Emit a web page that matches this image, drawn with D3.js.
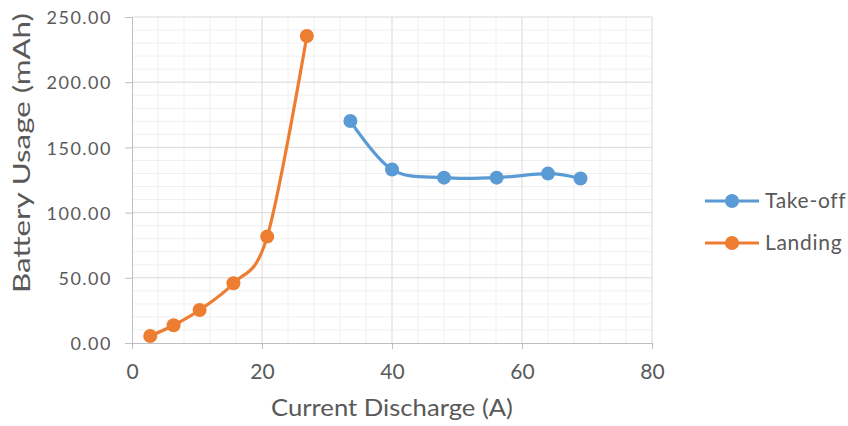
<!DOCTYPE html>
<html>
<head>
<meta charset="utf-8">
<script src="https://cdn.jsdelivr.net/npm/d3@7"></script>
<style>
  body { margin: 0; background: #fff; }
  text { font-family: "Gill Sans MT", "Gill Sans", Lato, "Open Sans", sans-serif; fill: #595959; }
</style>
</head>
<body>
<div id="chart"></div>
<script>
// data
const takeoffX = [33.6, 40.0, 48.0, 56.1, 64.0, 69.0];
const takeoffY = [170.2, 133.0, 126.8, 126.8, 129.9, 126.1];
const landingX = [2.8, 6.4, 10.4, 15.6, 20.8, 26.9];
const landingY = [5.4, 13.6, 25.3, 45.8, 81.6, 235.4];
const seriesNames = ['Take-off', 'Landing'];
const seriesColors = ['#5b9bd5', '#ed7d31'];
const xTicks = [0, 20, 40, 60, 80];
const yTicks = [0, 50, 100, 150, 200, 250];

const W = 848, H = 426;
const margin = { top: 17, right: 196, bottom: 83, left: 132 };
const width = W - margin.left - margin.right;
const height = H - margin.top - margin.bottom;

const svg = d3.select('#chart').append('svg')
    .attr('width', W).attr('height', H);
const g = svg.append('g').attr('transform', `translate(${margin.left},${margin.top})`);

const x = d3.scaleLinear().domain([0, 80]).range([0, width]);
const y = d3.scaleLinear().domain([0, 250]).range([height, 0]);

// minor grid
g.append('g').selectAll('line').data(d3.range(0, 81, 4).filter(v => v % 20 !== 0))
    .join('line')
    .attr('x1', d => x(d)).attr('x2', d => x(d))
    .attr('y1', 0).attr('y2', height)
    .attr('stroke', '#f0f0f0').attr('stroke-width', 1);
g.append('g').selectAll('line').data(d3.range(0, 251, 10).filter(v => v % 50 !== 0))
    .join('line')
    .attr('x1', 0).attr('x2', width)
    .attr('y1', d => y(d)).attr('y2', d => y(d))
    .attr('stroke', '#f0f0f0').attr('stroke-width', 1);

// major grid
g.append('g').selectAll('line').data(xTicks.slice(1))
    .join('line')
    .attr('x1', d => x(d)).attr('x2', d => x(d))
    .attr('y1', 0).attr('y2', height)
    .attr('stroke', '#d9d9d9').attr('stroke-width', 1);
g.append('g').selectAll('line').data(yTicks.slice(1))
    .join('line')
    .attr('x1', 0).attr('x2', width)
    .attr('y1', d => y(d)).attr('y2', d => y(d))
    .attr('stroke', '#d9d9d9').attr('stroke-width', 1);

// axes
const xAxis = g.append('g')
    .attr('transform', `translate(0,${height})`)
    .call(d3.axisBottom(x).tickValues(xTicks).tickSize(6).tickPadding(15).tickFormat(d3.format('d')));
const yAxis = g.append('g')
    .call(d3.axisLeft(y).tickValues(yTicks).tickSize(7).tickPadding(13).tickFormat(d3.format('.2f')));
[xAxis, yAxis].forEach(a => {
    a.selectAll('path, line').attr('stroke', '#bfbfbf');
    a.selectAll('text').attr('fill', '#595959')
        .style('font-family', '"Gill Sans MT", Lato, sans-serif');
});
xAxis.selectAll('text').style('font-size', '21px');
yAxis.selectAll('text').style('font-size', '18px').style('letter-spacing', '1.5px').attr('dy', '0.37em');

// axis titles - stretched sideways to the width they have in the original
function stretchedTitle(text, fontSize, targetLen, place) {
    const t = svg.append('text').style('font-size', fontSize + 'px').text(text);
    const len = t.node().getComputedTextLength();
    t.attr('transform', `${place} scale(${targetLen / len},1)`);
    return t;
}
stretchedTitle('Current Discharge (A)', 23, 242, 'translate(271,416)');
stretchedTitle('Battery Usage (mAh)', 23, 280, 'translate(30,293) rotate(-90)');

// series
const series = [
    { name: seriesNames[0], color: seriesColors[0], pts: takeoffX.map((v, i) => [v, takeoffY[i]]) },
    { name: seriesNames[1], color: seriesColors[1], pts: landingX.map((v, i) => [v, landingY[i]]) }
];
const line = d3.line()
    .x(d => x(d[0])).y(d => y(d[1]))
    .curve(d3.curveCardinal.tension(0));

series.forEach(s => {
    g.append('path')
        .datum(s.pts)
        .attr('d', line)
        .attr('fill', 'none')
        .attr('stroke', s.color)
        .attr('stroke-width', 3.2)
        .attr('stroke-linecap', 'round');
    g.append('g').selectAll('circle').data(s.pts)
        .join('circle')
        .attr('cx', d => x(d[0])).attr('cy', d => y(d[1]))
        .attr('r', 7)
        .attr('fill', s.color);
});

// legend
const legend = svg.append('g').attr('transform', 'translate(705,201)');
series.forEach((s, i) => {
    const item = legend.append('g').attr('transform', `translate(0,${i * 42})`);
    item.append('line')
        .attr('x1', 0).attr('x2', 54).attr('y1', 0).attr('y2', 0)
        .attr('stroke', s.color).attr('stroke-width', 3.2);
    item.append('circle').attr('cx', 27).attr('cy', 0).attr('r', 7).attr('fill', s.color);
    item.append('text')
        .attr('x', 60).attr('y', 0).attr('dy', '0.35em')
        .style('font-size', '21px')
        .style('letter-spacing', '0.7px')
        .text(s.name);
});
</script>
</body>
</html>
